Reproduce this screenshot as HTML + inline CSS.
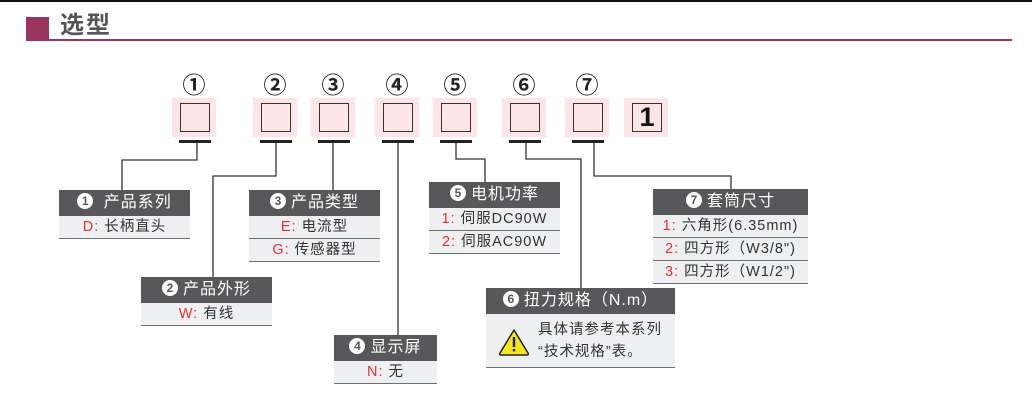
<!DOCTYPE html>
<html><head><meta charset="utf-8"><style>
*{margin:0;padding:0;box-sizing:border-box}
body{width:1032px;height:417px;background:#fff;position:relative;overflow:hidden;font-family:"Liberation Sans","Noto Sans CJK SC",sans-serif}
.a{position:absolute}
.pk{position:absolute;background:#fce4e7;width:44px;height:39px}
.pk i{position:absolute;left:8px;top:5px;width:30px;height:29px;border:1.5px solid #333;background:#fce4e7;font-style:normal}
.num{position:absolute;width:44px;text-align:center;font-size:23px;font-weight:bold;color:#222;top:72px;line-height:26px}
.bar{position:absolute;height:3px;width:32px;background:#222;top:140px}
.box{position:absolute}
.hd{background:#58585a;color:#fff;height:26px;line-height:26px;text-align:center;font-size:16px;letter-spacing:1px;white-space:nowrap}
.hd b{display:inline-block;width:16px;height:16px;border-radius:50%;background:#fff;color:#58585a;font-size:12px;line-height:16px;text-align:center;margin-right:5px;vertical-align:2px;letter-spacing:0}
.rw{background:#eeeff1;height:23px;line-height:22px;text-align:center;font-size:14.5px;letter-spacing:1px;color:#333;border-bottom:1.5px solid #6f6f6f;white-space:nowrap}
.rw span{color:#e8312f}
</style></head><body>
<div class="a" style="left:0;top:0;width:1032px;height:1.5px;background:#111"></div>
<div class="a" style="left:26px;top:17px;width:23px;height:23px;background:#98345e"></div>
<div class="a" style="left:60px;top:11px;font-size:24px;font-weight:bold;color:#555;letter-spacing:2px;line-height:30px">选型</div>
<div class="a" style="left:26px;top:39px;width:986px;height:1.5px;background:#98345e"></div>

<div class="pk" style="left:172px;top:98px"><i></i></div>
<div class="pk" style="left:253px;top:98px"><i></i></div>
<div class="pk" style="left:311px;top:98px"><i></i></div>
<div class="pk" style="left:375px;top:98px"><i></i></div>
<div class="pk" style="left:433px;top:98px"><i></i></div>
<div class="pk" style="left:502px;top:98px"><i></i></div>
<div class="pk" style="left:565px;top:98px"><i></i></div>
<div class="pk" style="left:624px;top:98px"><i style="text-align:center;font-size:27px;font-weight:bold;line-height:27px;color:#111">1</i></div>

<div class="num" style="left:172px">①</div>
<div class="num" style="left:253px">②</div>
<div class="num" style="left:311px">③</div>
<div class="num" style="left:375px">④</div>
<div class="num" style="left:433px">⑤</div>
<div class="num" style="left:502px">⑥</div>
<div class="num" style="left:565px">⑦</div>

<div class="bar" style="left:179px"></div>
<div class="bar" style="left:260px"></div>
<div class="bar" style="left:318px"></div>
<div class="bar" style="left:382px"></div>
<div class="bar" style="left:440px"></div>
<div class="bar" style="left:509px"></div>
<div class="bar" style="left:572px"></div>

<svg class="a" style="left:0;top:0" width="1032" height="417">
<g fill="none" stroke="#333" stroke-width="1.3">
<polyline points="197,143 197,160 122,160 122,190"/>
<polyline points="276,143 276,176 213,176 213,278"/>
<polyline points="333,143 333,190"/>
<polyline points="398,143 398,335"/>
<polyline points="456,143 456,159 485,159 485,182"/>
<polyline points="526,143 526,159 581,159 581,288"/>
<polyline points="594,143 594,176 731,176 731,189"/>
</g></svg>

<div class="box" style="left:59px;top:190px;width:131px"><div class="hd"><b>1</b> 产品系列</div><div class="rw"><span>D:</span> 长柄直头</div></div>
<div class="box" style="left:141px;top:277px;width:131px"><div class="hd"><b>2</b>产品外形</div><div class="rw"><span>W:</span> 有线</div></div>
<div class="box" style="left:249px;top:190px;width:131px"><div class="hd"><b>3</b>产品类型</div><div class="rw"><span>E:</span> 电流型</div><div class="rw"><span>G:</span> 传感器型</div></div>
<div class="box" style="left:334px;top:335px;width:103px"><div class="hd"><b>4</b>显示屏</div><div class="rw"><span>N:</span> 无</div></div>
<div class="box" style="left:429px;top:182px;width:131px"><div class="hd"><b>5</b>电机功率</div><div class="rw"><span>1:</span> 伺服DC90W</div><div class="rw"><span>2:</span> 伺服AC90W</div></div>
<div class="box" style="left:653px;top:189px;width:155px"><div class="hd"><b>7</b>套筒尺寸</div><div class="rw"><span>1:</span> 六角形(6.35mm)</div><div class="rw"><span>2:</span> 四方形（W3/8")</div><div class="rw"><span>3:</span> 四方形（W1/2")</div></div>
<div class="box" style="left:486px;top:288px;width:189px"><div class="hd"><b>6</b>扭力规格（N.m）</div>
<div class="rw" style="height:54px;position:relative;text-align:left">
<svg class="a" style="left:12px;top:14px" width="32" height="28"><path d="M16 2 L30 25 Q31 27 29 27 L3 27 Q1 27 2 25 Z" fill="#f5e61c" stroke="#222" stroke-width="1.5" stroke-linejoin="round"/><rect x="14.8" y="9" width="2.4" height="10" fill="#222"/><rect x="14.8" y="21" width="2.4" height="2.4" fill="#222"/></svg>
<div class="a" style="left:52px;top:5px;line-height:22px;font-size:14.5px">具体请参考本系列<br>“技术规格”表。</div>
</div></div>
</body></html>
